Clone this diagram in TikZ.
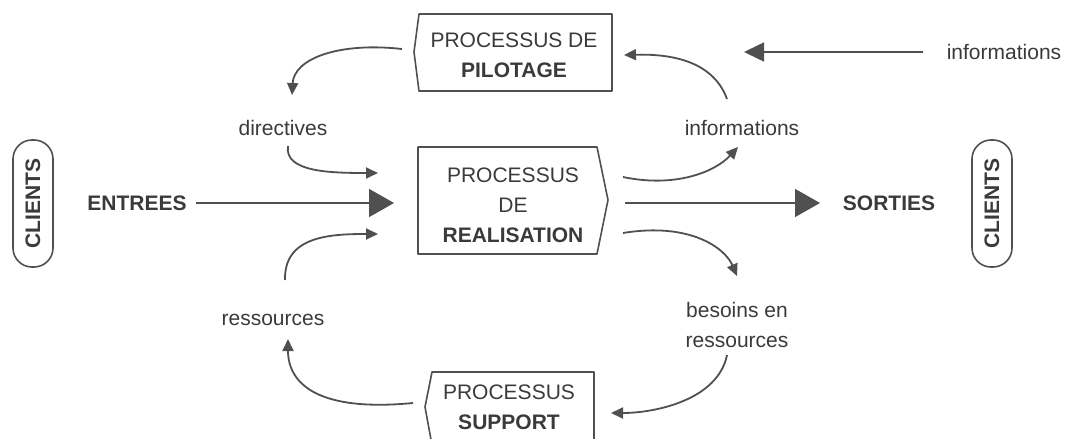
\documentclass[tikz,border=0pt]{standalone}
\usepackage{fontspec}
\setmainfont{Liberation Sans}
\usetikzlibrary{arrows.meta}
\definecolor{ink}{HTML}{3A3A3A}
\definecolor{stroke}{HTML}{505050}
\tikzset{
  txt/.style={inner sep=0pt, text=ink, font=\fontsize{21}{30}\selectfont, align=center},
  btxt/.style={txt, font=\fontsize{21}{30}\selectfont\bfseries},
  outline/.style={draw=stroke, line width=1.6pt, line join=round},
  flow/.style={draw=stroke, line width=1.8pt, -{Triangle[length=12pt,width=11pt]}},
  bigflow/.style={draw=stroke, line width=1.6pt, -{Triangle[length=25pt,width=28pt]}},
  infoflow/.style={draw=stroke, line width=1.6pt, -{Triangle[length=20pt,width=19pt]}},
  pill/.style={draw=stroke, line width=1.6pt, rounded corners=19pt}
}
\begin{document}
\begin{tikzpicture}[x=1pt,y=-1pt]
\useasboundingbox (0,0) rectangle (1066,439);

% process boxes
\draw[outline] (419,14) -- (612,14) -- (612,91) -- (419,91) -- (414,52) -- cycle;
\node[txt] (pil) at (514,55) {PROCESSUS DE\\\textbf{PILOTAGE}};

\draw[outline] (418,147) -- (597,147) -- (608,200) -- (597,254) -- (418,254) -- cycle;
\node[txt] (real) at (513,205) {PROCESSUS\\DE\\\textbf{REALISATION}};

\draw[outline] (594,445) -- (594,372) -- (432,372) -- (425,407) -- (432,445);
\node[txt] (sup) at (509,407) {PROCESSUS\\\textbf{SUPPORT}};

% clients
\draw[pill] (13,140) rectangle (53,267);
\node[btxt, rotate=90] (cl) at (33,203.5) {CLIENTS};
\draw[pill] (972,140) rectangle (1012,267);
\node[btxt, rotate=90] (cr) at (992,203.5) {CLIENTS};

% labels
\node[btxt] (ent) at (137,203) {ENTREES};
\node[btxt] (sor) at (889,203) {SORTIES};
\node[txt] (dir) at (283,128) {directives};
\node[txt] (inf) at (742,128) {informations};
\node[txt] (res) at (273,320) {ressources};
\node[txt] (bes) at (737,325) {besoins en\\ressources};
\node[txt] (infx) at (1004,52) {informations};

% connector ends
\coordinate (a1) at (402,49);   \coordinate (a2) at (292,95);
\coordinate (b1) at (288,146);  \coordinate (b2) at (378,173);
\coordinate (c1) at (285,280);  \coordinate (c2) at (378,234);
\coordinate (d1) at (413,403);  \coordinate (d2) at (288,339);
\coordinate (e1) at (623,177);  \coordinate (e2) at (738,147);
\coordinate (f1) at (727,99);   \coordinate (f2) at (624,55);
\coordinate (g1) at (623,233);  \coordinate (g2) at (737,276);
\coordinate (h1) at (727,355);  \coordinate (h2) at (611,413);
\coordinate (i1) at (196,203);  \coordinate (i2) at (394,203);
\coordinate (j1) at (625,203);  \coordinate (j2) at (820,203);
\coordinate (k1) at (923,52);   \coordinate (k2) at (744,52);

% main flow
\draw[bigflow] (i1) -- (i2);
\draw[bigflow] (j1) -- (j2);
\draw[infoflow] (k1) -- (k2);

% loops
\draw[flow] (a1) .. controls (340,42) and (294,58) .. (a2);
\draw[flow] (b1) .. controls (284,172) and (330,173) .. (b2);
\draw[flow] (c1) .. controls (284,236) and (330,234) .. (c2);
\draw[flow] (d1) .. controls (320,412) and (288,385) .. (d2);
\draw[flow] (e1) .. controls (675,188) and (715,172) .. (e2);
\draw[flow] (f1) .. controls (712,58) and (665,54) .. (f2);
\draw[flow] (g1) .. controls (690,222) and (725,248) .. (g2);
\draw[flow] (h1) .. controls (718,400) and (655,413) .. (h2);
\end{tikzpicture}
\end{document}
